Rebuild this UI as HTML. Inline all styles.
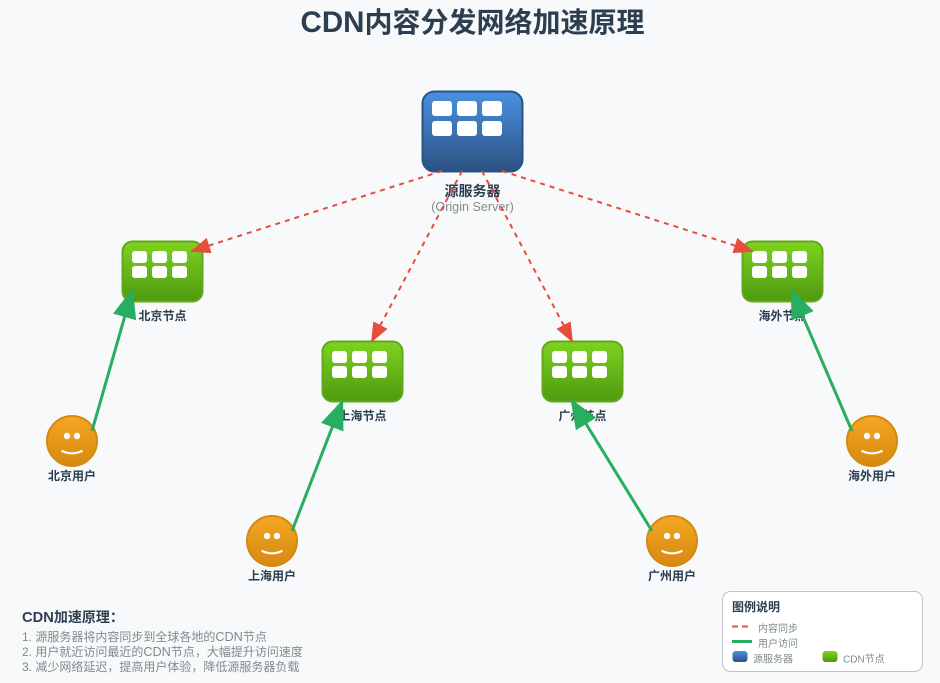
<!DOCTYPE html>
<html><head><meta charset="utf-8"><style>
html,body{margin:0;padding:0;background:#f8f9fa}
svg{display:block;font-family:"Liberation Sans","Noto Sans CJK SC",sans-serif}
</style></head><body>
<svg width="940" height="683" viewBox="0 0 940 683" xmlns="http://www.w3.org/2000/svg">
<defs>
<linearGradient id="b" x1="0" y1="0" x2="0" y2="1"><stop offset="0" stop-color="#4a90e2"/><stop offset="1" stop-color="#2c5282"/></linearGradient>
<linearGradient id="g" x1="0" y1="0" x2="0" y2="1"><stop offset="0" stop-color="#7ed321"/><stop offset="1" stop-color="#4e9a10"/></linearGradient>
<linearGradient id="o" x1="0" y1="0" x2="0" y2="1"><stop offset="0" stop-color="#f5a623"/><stop offset="1" stop-color="#d68910"/></linearGradient>
<marker id="mr" markerWidth="12" markerHeight="12" refX="9" refY="4" orient="auto"><polygon points="0 0,10 4,0 8" fill="#e74c3c"/></marker>
<marker id="mg" markerWidth="12" markerHeight="12" refX="9" refY="4" orient="auto"><polygon points="0 0,10 4,0 8" fill="#27ae60"/></marker>
<g id="srv"><rect x="0.5" y="0.5" width="100" height="80" rx="12" fill="url(#b)" stroke="#2c5282" stroke-width="2"/>
<g fill="#fff"><rect x="10" y="10" width="20" height="15" rx="3"/><rect x="35" y="10" width="20" height="15" rx="3"/><rect x="60" y="10" width="20" height="15" rx="3"/><rect x="10" y="30" width="20" height="15" rx="3"/><rect x="35" y="30" width="20" height="15" rx="3"/><rect x="60" y="30" width="20" height="15" rx="3"/></g></g>
<g id="cdn"><rect x="0.5" y="0.5" width="80" height="60" rx="10" fill="url(#g)" stroke="#63a81c" stroke-width="2"/>
<g fill="#fff"><rect x="10" y="10" width="15" height="12" rx="3"/><rect x="30" y="10" width="15" height="12" rx="3"/><rect x="50" y="10" width="15" height="12" rx="3"/><rect x="10" y="25" width="15" height="12" rx="3"/><rect x="30" y="25" width="15" height="12" rx="3"/><rect x="50" y="25" width="15" height="12" rx="3"/></g></g>
<g id="usr"><circle cx="0" cy="0" r="25" fill="url(#o)" stroke="#d68910" stroke-width="2"/><circle cx="-5" cy="-5" r="3.2" fill="#fff"/><circle cx="5" cy="-5" r="3.2" fill="#fff"/><path d="M-10.5 9.7Q0 15 10.5 9.7" fill="none" stroke="#fff" stroke-width="2"/></g>
</defs>
<rect width="940" height="683" fill="#f8f9fa"/>
<text x="472.5" y="32" text-anchor="middle" font-size="28" font-weight="bold" fill="#2c3e50"><tspan font-size="29.5">CDN</tspan>内容分发网络加速原理</text>

<use href="#srv" x="422" y="91"/>
<text x="472.5" y="196" text-anchor="middle" font-size="14" font-weight="bold" fill="#2c3e50">源服务器</text>
<text x="472.5" y="211" text-anchor="middle" font-size="12.6" fill="#7f8c8d">(Origin Server)</text>

<use href="#cdn" x="122" y="241"/>
<text x="162.5" y="320" text-anchor="middle" font-size="12" font-weight="bold" fill="#2c3e50">北京节点</text>
<use href="#cdn" x="322" y="341"/>
<text x="362.5" y="420" text-anchor="middle" font-size="12" font-weight="bold" fill="#2c3e50">上海节点</text>
<use href="#cdn" x="542" y="341"/>
<text x="582.5" y="420" text-anchor="middle" font-size="12" font-weight="bold" fill="#2c3e50">广州节点</text>
<use href="#cdn" x="742" y="241"/>
<text x="782.5" y="320" text-anchor="middle" font-size="12" font-weight="bold" fill="#2c3e50">海外节点</text>

<use href="#usr" x="72" y="441"/>
<text x="72" y="480" text-anchor="middle" font-size="12" font-weight="bold" fill="#2c3e50">北京用户</text>
<use href="#usr" x="272" y="541"/>
<text x="272" y="580" text-anchor="middle" font-size="12" font-weight="bold" fill="#2c3e50">上海用户</text>
<use href="#usr" x="672" y="541"/>
<text x="672" y="580" text-anchor="middle" font-size="12" font-weight="bold" fill="#2c3e50">广州用户</text>
<use href="#usr" x="872" y="441"/>
<text x="872" y="480" text-anchor="middle" font-size="12" font-weight="bold" fill="#2c3e50">海外用户</text>

<g fill="none" stroke="#e74c3c" stroke-width="2" stroke-dasharray="5,5">
<line x1="442" y1="171" x2="192" y2="251" marker-end="url(#mr)"/>
<line x1="462" y1="171" x2="372" y2="341" marker-end="url(#mr)"/>
<line x1="482" y1="171" x2="572" y2="341" marker-end="url(#mr)"/>
<line x1="502" y1="171" x2="752" y2="251" marker-end="url(#mr)"/>
</g>
<g fill="none" stroke="#27ae60" stroke-width="3">
<line x1="92" y1="431" x2="132" y2="291" marker-end="url(#mg)"/>
<line x1="292" y1="531" x2="342" y2="402" marker-end="url(#mg)"/>
<line x1="652" y1="531" x2="572" y2="401" marker-end="url(#mg)"/>
<line x1="852" y1="431" x2="792" y2="291" marker-end="url(#mg)"/>
</g>

<text x="22" y="622" font-size="14" font-weight="bold" fill="#2c3e50"><tspan font-size="14.7">CDN</tspan>加速原理：</text>
<text x="22" y="641" font-size="12" fill="#7f8c8d">1. 源服务器将内容同步到全球各地的<tspan font-size="12.7">CDN</tspan>节点</text>
<text x="22" y="656" font-size="12" fill="#7f8c8d">2. 用户就近访问最近的<tspan font-size="12.7">CDN</tspan>节点，大幅提升访问速度</text>
<text x="22" y="671" font-size="12" fill="#7f8c8d">3. 减少网络延迟，提高用户体验，降低源服务器负载</text>

<rect x="722.5" y="591.5" width="200" height="80" rx="8" fill="#fff" stroke="#bdc3c7"/>
<text x="732" y="611" font-size="12" font-weight="bold" fill="#2c3e50">图例说明</text>
<line x1="732" y1="626.5" x2="748" y2="626.5" stroke="#e74c3c" stroke-width="2" stroke-dasharray="6,4"/>
<text x="758" y="632" font-size="10" fill="#7f8c8d">内容同步</text>
<line x1="732" y1="641.5" x2="752" y2="641.5" stroke="#27ae60" stroke-width="3"/>
<text x="758" y="647" font-size="10" fill="#7f8c8d">用户访问</text>
<rect x="732.5" y="651" width="15" height="11" rx="3" fill="url(#b)"/>
<text x="753" y="662.5" font-size="10" fill="#7f8c8d">源服务器</text>
<rect x="822.5" y="651" width="15" height="11" rx="3" fill="url(#g)"/>
<text x="843" y="662.5" font-size="10" fill="#7f8c8d">CDN节点</text>
</svg>
</body></html>
